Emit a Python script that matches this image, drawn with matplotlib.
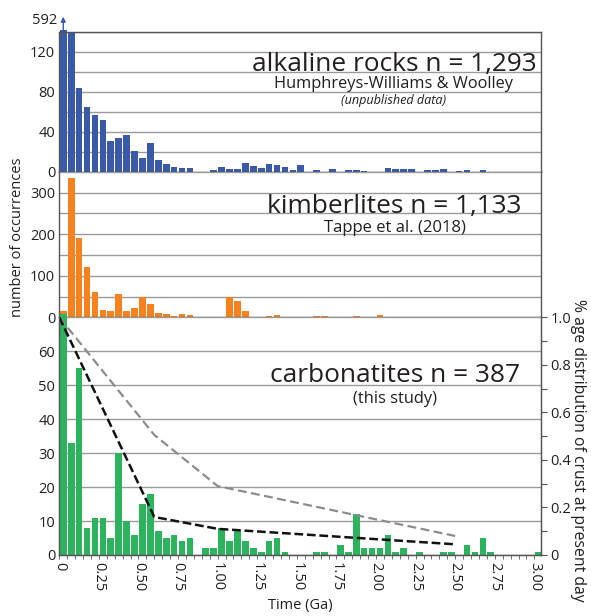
import matplotlib
matplotlib.use('Agg')
import matplotlib.pyplot as plt
import numpy as np

plt.rcParams['font.family'] = ['Open Sans', 'DejaVu Sans']

# counts per 0.05 Ga bin, starting at 0 Ga
alkaline = [592, 140, 84, 65, 57, 52, 31, 34, 37, 21, 14, 29, 12, 8, 5, 4, 4, 0, 0, 2,
            5, 3, 3, 9, 6, 4, 8, 7, 5, 2, 7, 0, 2, 0, 3, 0, 2, 2, 1, 0,
            0, 4, 3, 3, 3, 0, 2, 2, 3, 0, 1, 2, 0, 2, 0, 0, 0, 0, 0, 0, 0]
kimberlites = [14, 336, 190, 120, 60, 18, 16, 56, 16, 22, 50, 32, 10, 7, 3, 7, 5, 0, 1, 1,
               1, 50, 39, 16, 1, 1, 3, 6, 1, 0, 1, 1, 4, 4, 1, 0, 1, 3, 1, 0,
               6, 1, 1, 0, 1, 0, 0, 0, 0, 0, 1, 0, 0, 0, 0, 0, 1, 0, 0, 0, 0]
carbonatites = [71, 33, 55, 8, 11, 11, 5, 30, 10, 6, 15, 18, 7, 5, 6, 4, 5, 0, 2, 2,
                8, 4, 7, 4, 2, 1, 4, 5, 1, 0, 0, 0, 1, 1, 0, 3, 1, 12, 2, 2,
                2, 6, 1, 2, 0, 1, 0, 0, 1, 1, 0, 3, 1, 5, 1, 0, 0, 0, 0, 0, 1]
bin_w = 0.05

# crust distribution curves (fraction)
crust_t = [0, 0.6, 1.0, 2.5]
crust_black = [1.0, 0.16, 0.11, 0.045]
crust_grey = [1.0, 0.505, 0.29, 0.08]

xticks = [0, 0.25, 0.5, 0.75, 1.0, 1.25, 1.5, 1.75, 2.0, 2.25, 2.5, 2.75, 3.0]
xticklabels = ['0', '0.25', '0.50', '0.75', '1.00', '1.25', '1.50', '1.75',
               '2.00', '2.25', '2.50', '2.75', '3.00']

blue = '#3a5aa8'
orange = '#f5821f'
green = '#2db35d'
txt = '#231f20'
gridc = '#9a9a9a'
spinec = '#555555'

W, H = 591, 616
fig = plt.figure(figsize=(W / 100, H / 100), dpi=100)

left = 59.3 / W
width = (540.7 - 59.3) / W


def box(top, bottom):
    return [left, 1 - bottom / H, width, (bottom - top) / H]


ax1 = fig.add_axes(box(31.7, 171.7))
ax2 = fig.add_axes(box(171.7, 317.3))
ax3 = fig.add_axes(box(317.3, 555.0))

xc = np.arange(len(alkaline)) * bin_w + bin_w / 2

for ax in (ax1, ax2, ax3):
    ax.set_xlim(0, 3.04)
    ax.set_xticks(xticks)
    ax.set_xticks(np.arange(0, 3.04, 0.05), minor=True)
    ax.tick_params(axis='x', which='both', direction='out', length=3, width=0.6,
                   color=spinec, labelbottom=False)
    ax.tick_params(axis='y', length=0, labelsize=10.5, labelcolor=txt, pad=3)
    ax.set_axisbelow(True)
    ax.grid(axis='y', color=gridc, lw=1.0)
    for s in ax.spines.values():
        s.set_color(spinec)
        s.set_linewidth(1.0)

# top: alkaline rocks
a_vals = list(alkaline)
a_vals[0] = 141.7
ax1.bar(xc, a_vals, width=0.042, color=blue, clip_on=False, zorder=2)
ax1.set_ylim(0, 140)
ax1.set_yticks([0, 20, 40, 60, 80, 100, 120, 140])
ax1.set_yticklabels(['0', '', '40', '', '80', '', '120', ''])
ax1.annotate('', xy=(0.025, 155), xytext=(0.025, 141.5), annotation_clip=False,
             arrowprops=dict(arrowstyle='-|>', color=blue, lw=1.0, mutation_scale=7,
                             shrinkA=0, shrinkB=0))
ax1.text(-0.015, 151, '592', ha='right', va='center', fontsize=10.5, color=txt,
         clip_on=False)
ax1.text(0.992, 0.719, 'alkaline rocks n = 1,293', transform=ax1.transAxes,
         ha='right', va='baseline', fontsize=18.9, color=txt)
ax1.text(0.695, 0.598, 'Humphreys-Williams & Woolley', transform=ax1.transAxes,
         ha='center', va='baseline', fontsize=11.8, color=txt)
ax1.text(0.695, 0.484, '(unpublished data)', transform=ax1.transAxes,
         ha='center', va='baseline', fontsize=9.1, style='italic', color=txt)

# middle: kimberlites
ax2.bar(xc, kimberlites, width=0.042, color=orange, zorder=2)
ax2.set_ylim(0, 350)
ax2.set_yticks([0, 50, 100, 150, 200, 250, 300, 350])
ax2.set_yticklabels(['0', '', '100', '', '200', '', '300', ''])
ax2.spines['top'].set_visible(False)
ax2.text(0.959, 0.716, 'kimberlites n = 1,133', transform=ax2.transAxes,
         ha='right', va='baseline', fontsize=18.9, color=txt)
ax2.text(0.697, 0.586, 'Tappe et al. (2018)', transform=ax2.transAxes,
         ha='center', va='baseline', fontsize=12, color=txt)

# bottom: carbonatites
ax3.bar(xc, carbonatites, width=0.042, color=green, clip_on=False, zorder=2)
ax3.set_ylim(0, 70)
ax3.set_yticks([0, 10, 20, 30, 40, 50, 60, 70])
ax3.set_yticklabels(['0', '10', '20', '30', '40', '50', '60', ''])
ax3.spines['top'].set_visible(False)
ax3.tick_params(axis='x', which='major', labelbottom=True, labelsize=10.5,
                labelcolor=txt, pad=2)
ax3.set_xticklabels(xticklabels, rotation=-90, va='top', ha='center')
ax3.text(0.957, 0.729, 'carbonatites n = 387', transform=ax3.transAxes,
         ha='right', va='baseline', fontsize=18.9, color=txt)
ax3.text(0.697, 0.639, '(this study)', transform=ax3.transAxes,
         ha='center', va='baseline', fontsize=11.8, color=txt)

ax4 = ax3.twinx()
ax4.set_ylim(0, 1.0)
ax4.set_yticks([0, 0.1, 0.2, 0.3, 0.4, 0.5, 0.6, 0.7, 0.8, 0.9, 1.0])
ax4.set_yticklabels(['0', '', '0.2', '', '0.4', '', '0.6', '', '0.8', '', '1.0'])
ax4.tick_params(axis='y', direction='out', length=4, width=0.8, color=spinec,
                labelsize=10.5, labelcolor=txt, pad=3)
for s in ax4.spines.values():
    s.set_color(spinec)
ax4.spines['top'].set_visible(False)
ax4.plot(crust_t, crust_grey, color='#8c8c8c', lw=1.6, dashes=(4, 2))
ax4.plot(crust_t, crust_black, color='#111111', lw=1.8, dashes=(3.5, 1.5))

fig.text(18 / W, 1 - 237 / H, 'number of occurrences', rotation=90,
         ha='center', va='center', fontsize=10.5, color=txt)
fig.text(578 / W, 1 - 450 / H, '% age distribution of crust at present day',
         rotation=-90, ha='center', va='center', fontsize=11.3, color=txt)
fig.text(300 / W, 1 - 606 / H, 'Time (Ga)', ha='center', va='center',
         fontsize=10.5, color=txt)

fig.savefig('out.png', dpi=100)
